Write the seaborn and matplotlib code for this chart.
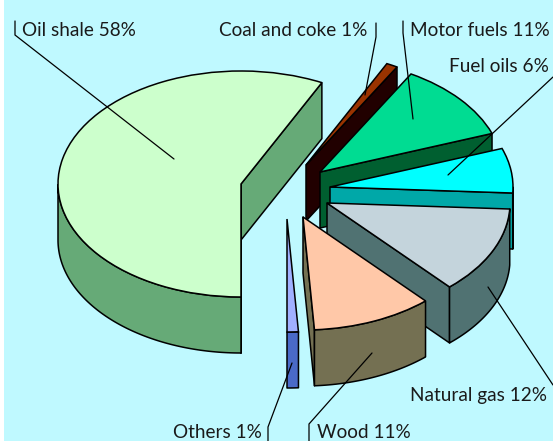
import numpy as np
import matplotlib
matplotlib.use('Agg')
import matplotlib.pyplot as plt
from matplotlib.patches import Polygon
from matplotlib.transforms import Affine2D
import seaborn as sns

sns.set_theme(style="white")
plt.rcParams['font.family'] = ['Lato', 'DejaVu Sans']

# Data
categories = ['Oil shale', 'Coal and coke', 'Motor fuels', 'Fuel oils', 'Natural gas', 'Wood', 'Others']
label_shares = [58, 1, 11, 6, 12, 11, 1]
# slice sizes, they differ a bit from the rounded labels
slice_shares = [57.4, 1.0, 11.2, 6.4, 12.5, 10.7, 1.0]

# Colours
top_colors = sns.color_palette(['#CCFFCC', '#993300', '#00DC92', '#00FFFF', '#C4D4DC', '#FFC8A8', '#A0B0FF'])
side_colors = sns.color_palette(['#66AA77', '#210000', '#005F30', '#00A8A8', '#507272', '#747052', '#4A6AC8'])
BACKGROUND = '#BFF9FF'

# Layout in image pixels
WIDTH, HEIGHT = 553, 441
LEFT_MARGIN = 4
RX, RY, DEPTH = 183, 113, 56
apexes = [(241, 184), (306, 165), (320, 172), (330, 187), (327, 203), (303, 217), (287, 219)]

label_pos = [(22, 30), (219, 31), (410, 30), (449, 66), (410, 395), (317, 432), (173, 432)]
leaders = [
    [(15, 21), (15, 35), (174, 159)],
    [(376, 23), (376, 37), (365, 95)],
    [(403, 21), (403, 33), (413, 119)],
    [(553, 77), (448, 175)],
    [(488, 287), (553, 385)],
    [(372, 353), (309, 424), (309, 441)],
    [(292, 363), (268, 427), (268, 441)],
]


def flip(y):
    return HEIGHT - y


fig = plt.figure(figsize=(WIDTH / 100, HEIGHT / 100), dpi=100, facecolor='white')
ax = fig.add_axes([LEFT_MARGIN / WIDTH, 0, (WIDTH - LEFT_MARGIN) / WIDTH, 1])

wedges, _ = ax.pie(slice_shares, colors=top_colors, startangle=270, counterclock=False, frame=True,
                   normalize=True, wedgeprops=dict(edgecolor='black', linewidth=1.1))

for i, w in enumerate(wedges):
    cx, cy = apexes[i][0], flip(apexes[i][1])
    w.set_transform(Affine2D().scale(RX, RY).translate(cx, cy) + ax.transData)
    w.set_zorder(i * 2 + 2)
    side = dict(facecolor=side_colors[i], edgecolor='black', linewidth=1.1, joinstyle='round', zorder=i * 2 + 1)

    # radial faces that look down towards the viewer
    for theta, visible in ((w.theta1, np.cos(np.radians(w.theta1)) > 0), (w.theta2, np.cos(np.radians(w.theta2)) < 0)):
        if visible:
            ex = cx + RX * np.cos(np.radians(theta))
            ey = cy + RY * np.sin(np.radians(theta))
            ax.add_patch(Polygon([(cx, cy), (ex, ey), (ex, ey - DEPTH), (cx, cy - DEPTH)], closed=True, **side))

    # outer rim, front half of the ellipse only
    thetas = np.linspace(w.theta1, w.theta2, 300)
    thetas = thetas[np.sin(np.radians(thetas)) <= 0]
    if len(thetas) > 1:
        xs = cx + RX * np.cos(np.radians(thetas))
        ys = cy + RY * np.sin(np.radians(thetas))
        rim = np.vstack([np.column_stack([xs, ys]), np.column_stack([xs[::-1], ys[::-1] - DEPTH])])
        ax.add_patch(Polygon(rim, closed=True, **side))

for pts in leaders:
    ax.plot([p[0] for p in pts], [flip(p[1]) for p in pts], color='black', linewidth=0.9, zorder=30,
            solid_joinstyle='miter')

for name, share, (x, y) in zip(categories, label_shares, label_pos):
    ax.text(x, flip(y), f'{name} {share}%', fontsize=13.7, color='#1a1a1a', ha='left', va='center', zorder=31)

ax.set_xlim(LEFT_MARGIN, WIDTH)
ax.set_ylim(0, HEIGHT)
ax.set_aspect('auto')
ax.set_facecolor(BACKGROUND)
ax.set_xticks([])
ax.set_yticks([])
sns.despine(ax=ax, left=True, bottom=True)

fig.savefig('out.png', dpi=100)
